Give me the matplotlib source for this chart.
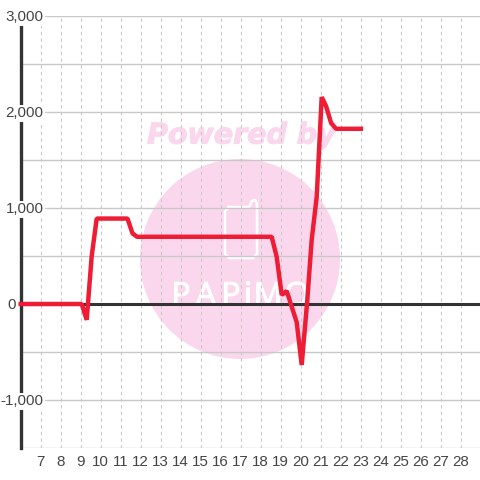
import matplotlib
matplotlib.use("Agg")
import matplotlib.pyplot as plt
import matplotlib.patheffects as pe
from matplotlib.patches import Circle
from matplotlib.transforms import IdentityTransform, offset_copy

plt.rcParams['font.family'] = ['Liberation Sans', 'DejaVu Sans']

######################### data ################################################
days = [5.9, 9.06, 9.31, 9.56, 9.81, 11.35, 11.6, 11.83, 18.56, 18.81, 19.06,
        19.31, 19.81, 20.06, 20.33, 20.56, 20.81, 21.06, 21.28, 21.53, 21.78, 23.13]
values = [0, 0, -165, 500, 890, 890, 735, 700, 700, 490, 95,
          135, -190, -635, 15, 670, 1115, 2155, 2060, 1885, 1825, 1825]
x_ticks = list(range(7, 29))
y_grid = [-1500, -1000, -500, 0, 500, 1000, 1500, 2000, 2500, 3000]
y_labelled = [3000, 2000, 1000, -1000]
y_labels = ['3,000', '2,000', '1,000', '-1,000']

dark = '#333333'
red = '#ee1c34'
grid_col = '#c8c8c8'
text_col = '#444444'
pink = '#fbd7ee'
font_pt = 10.9

######################## figure ###############################################
fig = plt.figure(figsize=(4.8, 4.8), dpi=100)
ax = fig.add_axes([20.5/480, 32/480, 460/480, 432/480])
ax.set_xlim(6, 29)
ax.set_ylim(-1500, 3000)

px = IdentityTransform()

# watermark, in pixels from the top left of the picture
ax.add_patch(Circle((240, 480-259), 100, transform=px, color=pink, lw=0, zorder=0.1, clip_on=False))
ax.text(241.5, 480-135.5, 'Powered by', transform=px, color=pink, fontsize=20.5, fontweight='bold',
        fontstyle='oblique', family='DejaVu Sans', ha='center', va='center', zorder=0.2,
        path_effects=[pe.withStroke(linewidth=0.8, foreground=pink)])
phone_x = [229, 249, 252, 255, 257, 257, 253, 229, 225, 225, 229]
phone_y = [207, 207, 201, 200, 203, 254, 258, 258, 254, 211, 207]
ax.plot(phone_x, [480-v for v in phone_y], transform=px, color='white', lw=1.8, zorder=0.2)
for letter, lx in zip('PAPiMO', [181, 206, 231, 248, 268, 297]):
    ax.text(lx, 480-305, letter, transform=px, color='white', fontsize=23, family='Open Sans',
            ha='center', va='baseline', zorder=0.2,
            path_effects=[pe.withStroke(linewidth=0.7, foreground='white')])

# grid
ax.set_axisbelow(True)
ax.set_xticks(x_ticks)
ax.set_yticks(y_grid)
ax.set_yticklabels([])
ax.grid(True, axis='y', color=grid_col, lw=1.0)
ax.grid(True, axis='x', color=grid_col, lw=0.8, linestyle=(0, (3, 3)))
ax.tick_params(length=0)
ax.tick_params(axis='x', labelsize=font_pt, labelcolor=text_col, pad=5)

for side in ['top', 'right', 'bottom']:
    ax.spines[side].set_visible(False)
ax.spines['left'].set_color(dark)
ax.spines['left'].set_linewidth(2.4)
ax.spines['left'].set_zorder(2)

ax.axhline(0, color=dark, lw=2.2, zorder=2.5)
ax.plot(days, values, color=red, lw=3.2, solid_joinstyle='bevel', solid_capstyle='butt',
        clip_on=False, zorder=3)

# y labels sit on a white box that breaks the axis and the grid line
trans = offset_copy(ax.get_yaxis_transform(), fig=fig, y=-1.2, units='dots')
for val, lab in zip(y_labelled, y_labels):
    ax.text(23/460, val, lab, transform=trans, ha='right', va='center', fontsize=font_pt, color=text_col,
            bbox=dict(fc='white', ec='none', pad=1), zorder=4, clip_on=False)
ax.text(-4.5/460, 0, '0', transform=trans, ha='right', va='center', fontsize=font_pt, color=text_col,
        zorder=4, clip_on=False)

fig.savefig('out.png', dpi=100)
